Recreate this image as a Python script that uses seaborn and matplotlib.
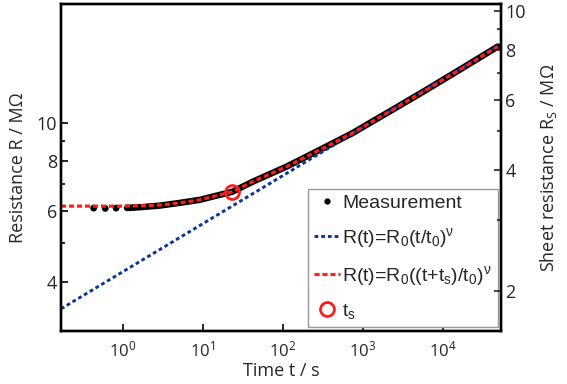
import numpy as np
import pandas as pd
import seaborn as sns
import matplotlib.pyplot as plt
from matplotlib.lines import Line2D
from matplotlib.ticker import NullFormatter, FixedLocator

# values
t_sparse = [0.43, 0.60, 0.82, 1.13, 1.23, 1.35]
R_sparse = [6.11, 6.10, 6.11, 6.12, 6.12, 6.13]

t_meas = [1.35, 1.64, 2.92, 5.2, 9.2, 14.1, 23.1, 42.3, 111, 290, 746, 1220, 2500, 6210, 16100, 48500]
R_meas = [6.13, 6.14, 6.20, 6.30, 6.41, 6.55, 6.71, 7.12, 7.76, 8.55, 9.42, 9.98, 10.85, 12.08, 13.55, 15.5]

t_power = [0.168, 48500]
R_power = [3.42, 15.5]

t_shift = [0.168, 0.5, 1, 2, 3, 5.2, 9.2, 14.1, 23.1, 42.3, 111, 290, 746, 1220, 2500, 6210, 16100, 48500]
R_shift = [6.18, 6.18, 6.18, 6.20, 6.22, 6.30, 6.41, 6.55, 6.71, 7.12, 7.76, 8.55, 9.42, 9.98, 10.85, 12.08, 13.55, 15.5]

t_s = [23.1]
R_ts = [6.71]

sheet_factor = 1.9  # R / Rs

sns.set_theme(style="ticks")
plt.rcParams['font.family'] = ['Open Sans', 'DejaVu Sans']
plt.rcParams['mathtext.default'] = 'regular'

blue = '#0d3497'
red = '#ff1c1c'

fig = plt.figure(figsize=(5.67, 3.84), dpi=100)
ax = fig.add_axes([0.1076, 0.138, 0.776, 0.8516])

sns.lineplot(x=t_meas, y=R_meas, ax=ax, color='black', lw=4.6, solid_capstyle='round')
sns.scatterplot(x=t_sparse, y=R_sparse, ax=ax, color='black', s=24, edgecolor='none')
sns.lineplot(x=t_power, y=R_power, ax=ax, color=blue, lw=2.1, linestyle=(0, (1.3, 1.0)))
sns.lineplot(x=t_shift, y=R_shift, ax=ax, color=red, lw=2.3, linestyle=(0, (1.6, 0.9)))
ax.plot(t_s, R_ts, 'o', mfc='none', mec=red, mew=2, ms=10)

ax.set_xscale('log')
ax.set_yscale('log')
ax.set_xlim(0.168, 53100)
ax.set_ylim(3.01, 19.8)

ax.xaxis.set_major_locator(FixedLocator([1, 10, 100, 1000, 10000]))
ax.xaxis.set_minor_locator(FixedLocator([]))
ax.yaxis.set_major_locator(FixedLocator([4, 6, 8, 10]))
ax.yaxis.set_minor_locator(FixedLocator([5, 7, 9]))
ax.yaxis.set_major_formatter(plt.FuncFormatter(lambda v, p: f'{v:g}'))
ax.yaxis.set_minor_formatter(NullFormatter())
ax.tick_params(axis='both', which='both', direction='in', color='black')
ax.tick_params(axis='y', which='major', length=5, width=1.2, labelsize=13, pad=3)
ax.tick_params(axis='y', which='minor', length=3, width=1.2)
ax.tick_params(axis='x', which='major', length=5, width=1.2, labelsize=12, pad=7)

ax.set_xlabel('Time t / s', fontsize=13, labelpad=1)
ax.set_ylabel('Resistance R / M\u03a9', fontsize=13, labelpad=7)

ax2 = ax.twinx()
ax2.set_yscale('log')
ax2.set_ylim(3.01 / sheet_factor, 19.8 / sheet_factor)
ax2.yaxis.set_major_locator(FixedLocator([2, 4, 6, 8, 10]))
ax2.yaxis.set_minor_locator(FixedLocator([3, 5, 7, 9]))
ax2.yaxis.set_major_formatter(plt.FuncFormatter(lambda v, p: f'{v:g}'))
ax2.yaxis.set_minor_formatter(NullFormatter())
ax2.tick_params(axis='y', which='major', direction='in', length=5, width=1.2, labelsize=13, pad=3)
ax2.tick_params(axis='y', which='minor', direction='in', length=3, width=1.2)
ax2.set_ylabel('Sheet resistance R$_S$ / M\u03a9', fontsize=13, labelpad=9)

for a in (ax, ax2):
    for s in a.spines.values():
        s.set_visible(True)
        s.set_linewidth(1.7)
        s.set_color('black')

handles = [
    Line2D([], [], color='black', marker='.', ls='none', ms=7),
    Line2D([], [], color=blue, lw=2.1, ls=(0, (1.3, 1.0))),
    Line2D([], [], color=red, lw=2.3, ls=(0, (1.6, 0.9))),
    Line2D([], [], marker='o', mfc='none', mec=red, mew=2, ms=10, ls='none'),
]
labels = [
    'Measurement',
    'R(t)=R$_0$(t/t$_0$)$^{\\nu}$',
    'R(t)=R$_0$((t+t$_s$)/t$_0$)$^{\\nu}$',
    't$_s$',
]
leg = ax.legend(handles, labels, loc='lower right', bbox_to_anchor=(0.993, 0.012),
                borderaxespad=0, fancybox=False, framealpha=1, edgecolor='#999999',
                prop={'family': ['Liberation Sans', 'DejaVu Sans'], 'size': 14},
                handlelength=1.3, handletextpad=0.15, labelspacing=0.72,
                borderpad=0.3)
leg.get_frame().set_linewidth(1.0)

fig.savefig('out.png', dpi=100)
